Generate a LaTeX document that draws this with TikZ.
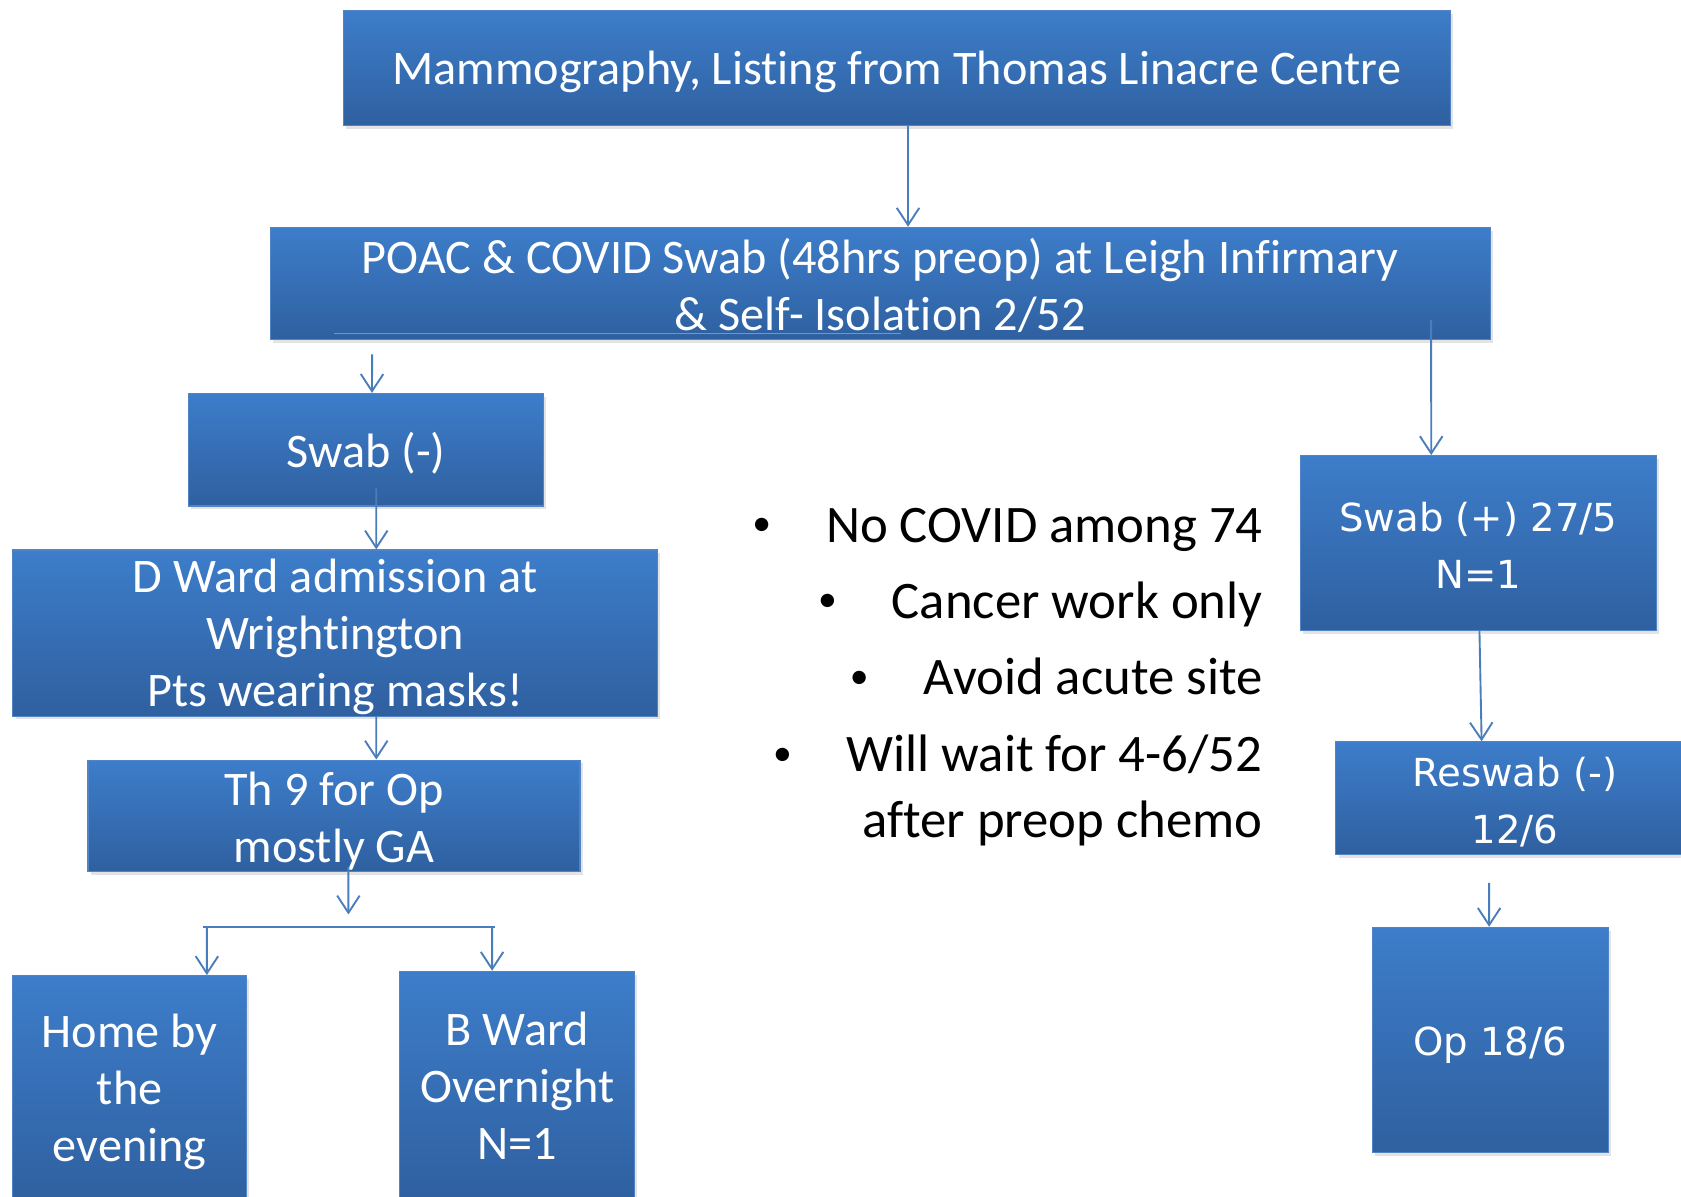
\documentclass[tikz,border=0pt]{standalone}
\usepackage{fontspec}
\setmainfont{Carlito}[Ligatures=NoCommon]
\newfontfamily\vfont{DejaVu Sans}
\usetikzlibrary{arrows.meta,shadows}
\definecolor{boxtop}{RGB}{61,125,202}
\definecolor{boxbot}{RGB}{47,96,160}
\definecolor{boxedge}{RGB}{80,132,196}
\definecolor{arrowc}{RGB}{74,126,187}
\definecolor{faint}{RGB}{105,150,212}
\newcommand{\bulmark}{\makebox[1.2cm][l]{\makebox[0pt][c]{\raisebox{3.5pt}{\fontsize{20}{20}\selectfont •}}}}
\begin{document}
\begin{tikzpicture}[x=0.02cm,y=-0.02cm,
  fbox/.style={draw=boxedge, line width=0.6pt, top color=boxtop, bottom color=boxbot,
    inner sep=0pt,
    drop shadow={shadow xshift=0.05cm, shadow yshift=-0.06cm, opacity=0.22}},
  ltxt/.style={text=white, align=center, inner sep=0pt, yshift=-0.07cm,
    font=\fontsize{25.6}{30.2}\selectfont},
  vtxt/.style={ltxt, font=\vfont\fontsize{20.5}{30.2}\selectfont},
  arr/.style={draw=arrowc, line width=1pt, -{Straight Barb[length=0.32cm,width=0.42cm]}},
  plainline/.style={draw=arrowc, line width=1pt},
  bul/.style={font=\fontsize{28}{34.7}\selectfont, inner sep=0pt, anchor=base east}]

\useasboundingbox (0,0) rectangle (1568,1116);
\clip (0,0) rectangle (1568,1116);
\fill[white] (0,0) rectangle (1568,1116);

% boxes
\node[fbox, minimum width=20.66cm, minimum height=2.14cm,
  label={[ltxt]center:{Mammography, Listing from Thomas Linacre Centre}}] (top) at (836.5,63.5) {};
\node[fbox, minimum width=22.76cm, minimum height=2.10cm,
  label={[ltxt, yshift=0.04cm]center:{POAC \& COVID Swab (48hrs preop) at Leigh Infirmary\\\& Self- Isolation 2/52}}] (poac) at (821,264.5) {};
\draw[faint, line width=0.5pt] (312,311) -- (840,311);

\node[fbox, minimum width=6.62cm, minimum height=2.10cm,
  label={[ltxt]center:{Swab (-)}}] (swabn) at (341.5,419.5) {};
\node[fbox, minimum width=12.02cm, minimum height=3.10cm,
  label={[ltxt]center:{D Ward admission at\\Wrightington\\Pts wearing masks!}}] (dward) at (312.5,590.5) {};
\node[fbox, minimum width=9.18cm, minimum height=2.08cm,
  label={[ltxt, yshift=-0.03cm]center:{Th 9 for Op\\mostly GA}}] (th9) at (311.5,761) {};
\node[fbox, minimum width=4.36cm, minimum height=4.26cm,
  label={[ltxt, yshift=0.03cm]center:{Home by\\the\\evening}}] (home) at (121,1016.5) {};
\node[fbox, minimum width=4.38cm, minimum height=4.26cm,
  label={[ltxt, yshift=0.06cm]center:{B Ward\\Overnight\\N=1}}] (bward) at (482.5,1012.5) {};

\node[fbox, minimum width=6.64cm, minimum height=3.26cm,
  label={[vtxt, yshift=0.02cm]center:{Swab (+) 27/5\\N=1}}] (swabp) at (1379,506.5) {};
\node[fbox, minimum width=6.68cm, minimum height=2.10cm,
  label={[vtxt]center:{Reswab (-)\\12/6}}] (reswab) at (1413,744.5) {};
\node[fbox, minimum width=4.40cm, minimum height=4.20cm,
  label={[vtxt, yshift=-0.03cm]center:{Op 18/6}}] (op) at (1390,970) {};

% bullet list
\node[bul] (b1) at (1178,506) {\bulmark No COVID among 74};
\node[bul] (b2) at (1178,577) {\bulmark Cancer work only};
\node[bul] (b3) at (1178,648) {\bulmark Avoid acute site};
\node[bul] (b4) at (1178,720) {\bulmark Will wait for 4-6/52};
\node[bul] (b5) at (1178,781) {after preop chemo};

% connectors
\draw[arr] ([xshift=0.21cm]top.south) -- ([xshift=0.52cm]poac.north);
\draw[arr] ([xshift=-9.48cm,yshift=-0.26cm]poac.south) -- ([xshift=0.11cm]swabn.north);
\draw[arr] ([xshift=0.19cm,yshift=0.34cm]swabn.south) -- ([xshift=0.77cm]dward.north);
\draw[arr] ([xshift=0.77cm]dward.south) -- ([xshift=0.79cm]th9.north);
\coordinate (split) at (325,853);
\draw[arr] ([xshift=0.27cm,yshift=0.1cm]th9.south) -- (split);
\coordinate (barL) at (189,865);
\coordinate (barR) at (462,865);
\draw[plainline] (barL) -- (barR);
\draw[arr] ([xshift=0.08cm]barL) -- ([xshift=1.44cm]home.north);
\draw[arr] ([xshift=-0.06cm]barR) -- ([xshift=-0.47cm]bward.north);

\draw[arr] ([xshift=10.28cm,yshift=0.38cm]poac.south) -- ([xshift=-0.88cm]swabp.north);
\draw[arr] ([xshift=0.02cm]swabp.south) -- ([xshift=-0.62cm]reswab.north);
\draw[arr] ([xshift=-0.48cm,yshift=-0.52cm]reswab.south) -- ([xshift=-0.02cm]op.north);
\end{tikzpicture}
\end{document}
